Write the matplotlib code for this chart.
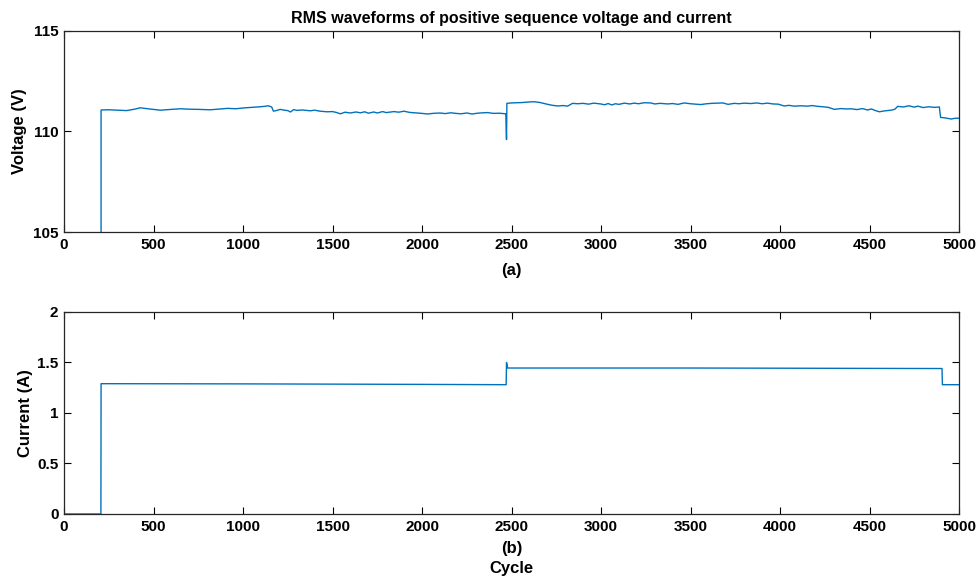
import matplotlib
matplotlib.use("Agg")
import matplotlib.pyplot as plt
from matplotlib import font_manager

# values
v_cycle = [0, 206, 207, 250, 300, 350, 400, 425, 450, 500, 537, 570, 600, 649, 700, 750,
           817, 870, 915, 960, 1000, 1050, 1096, 1120, 1141, 1160, 1170, 1190, 1208, 1230,
           1250, 1265, 1283, 1300, 1330, 1376, 1400, 1430, 1470, 1500, 1520, 1544, 1570,
           1600, 1630, 1656, 1680, 1700, 1730, 1750, 1780, 1800, 1843, 1870, 1899, 1930,
           1960, 2000, 2030, 2060, 2100, 2130, 2160, 2190, 2217, 2250, 2280, 2310, 2340,
           2366, 2400, 2430, 2468, 2472, 2474,
           2500, 2534, 2560, 2600, 2627, 2660, 2702, 2730, 2758, 2790, 2813, 2841, 2870,
           2900, 2930, 2960, 2998, 3020, 3040, 3060, 3080, 3100, 3130, 3160, 3185, 3210,
           3240, 3278, 3300, 3330, 3372, 3400, 3430, 3465, 3500, 3530, 3557, 3590, 3620,
           3651, 3680, 3710, 3744, 3770, 3800, 3837, 3870, 3900, 3930, 3960, 3990, 4023,
           4050, 4080, 4116, 4150, 4180, 4210, 4240, 4270, 4303, 4340, 4370, 4396, 4430,
           4460, 4489, 4510, 4530, 4555, 4580, 4600, 4620, 4640, 4658, 4690, 4720, 4750,
           4770, 4800, 4830, 4863, 4890, 4897, 4920, 4956, 4980, 5000]
voltage = [0, 0, 111.07, 111.08, 111.06, 111.04, 111.12, 111.18, 111.15, 111.10, 111.06,
           111.08, 111.10, 111.13, 111.11, 111.10, 111.08, 111.12, 111.15, 111.13, 111.17,
           111.20, 111.23, 111.25, 111.28, 111.22, 111.01, 111.05, 111.10, 111.06, 111.04,
           110.97, 111.09, 111.05, 111.07, 111.03, 111.06, 111.01, 110.98, 110.99, 110.95,
           110.88, 110.96, 110.92, 110.97, 110.93, 110.98, 110.91, 110.97, 110.92, 110.99,
           110.94, 110.99, 110.96, 111.01, 110.95, 110.93, 110.90, 110.87, 110.90, 110.92,
           110.89, 110.93, 110.90, 110.88, 110.92, 110.87, 110.91, 110.93, 110.94, 110.90,
           110.91, 110.88, 109.60, 111.40,
           111.42, 111.43, 111.44, 111.47, 111.48, 111.44, 111.35, 111.30, 111.27, 111.29,
           111.26, 111.40, 111.38, 111.40, 111.36, 111.41, 111.37, 111.33, 111.39, 111.32,
           111.38, 111.35, 111.41, 111.37, 111.41, 111.38, 111.43, 111.42, 111.37, 111.40,
           111.37, 111.39, 111.35, 111.42, 111.38, 111.36, 111.34, 111.38, 111.40, 111.41,
           111.42, 111.35, 111.40, 111.38, 111.41, 111.39, 111.42, 111.38, 111.41, 111.37,
           111.36, 111.27, 111.30, 111.26, 111.28, 111.26, 111.29, 111.25, 111.23, 111.20,
           111.10, 111.14, 111.12, 111.13, 111.09, 111.14, 111.07, 111.12, 111.05, 110.98,
           111.02, 111.04, 111.06, 111.10, 111.25, 111.22, 111.28, 111.21, 111.26, 111.19,
           111.23, 111.20, 111.22, 110.70, 110.68, 110.62, 110.66, 110.66]

i_cycle = [0, 206, 207, 1000, 2000, 2470, 2472, 2478, 3500, 4905, 4907, 5000]
current = [0, 0, 1.29, 1.288, 1.283, 1.28, 1.50, 1.445, 1.445, 1.44, 1.28, 1.28]

x_ticks = list(range(0, 5001, 500))
v_ticks = [105, 110, 115]
i_ticks = [0, 0.5, 1, 1.5, 2]
i_labels = ["0", "0.5", "1", "1.5", "2"]

names = {f.name for f in font_manager.fontManager.ttflist}
family = "Liberation Sans Narrow" if "Liberation Sans Narrow" in names else "Liberation Sans"
plt.rcParams["font.family"] = [family, "DejaVu Sans"]
plt.rcParams["font.weight"] = "bold"

line_color = "#0072BD"
fig = plt.figure(figsize=(9.79, 5.79), dpi=100)
ax1 = fig.add_axes([0.0654, 0.5993, 0.9142, 0.3472])
ax2 = fig.add_axes([0.0654, 0.1123, 0.9142, 0.3489])

ax1.plot(v_cycle, voltage, color=line_color, lw=1.0)
ax1.set_ylim(105, 115)
ax1.set_yticks(v_ticks)
ax1.set_ylabel("Voltage (V)", fontsize=12, fontweight="bold", labelpad=4)
ax1.set_title("RMS waveforms of positive sequence voltage and current",
              fontsize=11.5, fontweight="bold", pad=6)

ax2.plot(i_cycle, current, color=line_color, lw=1.0)
ax2.set_ylim(0, 2)
ax2.set_yticks(i_ticks)
ax2.set_yticklabels(i_labels)
ax2.set_ylabel("Current (A)", fontsize=12, fontweight="bold", labelpad=3)

for ax in (ax1, ax2):
    ax.set_xlim(0, 5000)
    ax.set_xticks(x_ticks)
    ax.tick_params(direction="in", top=True, right=True, length=5, width=0.8,
                   labelsize=11, pad=4)
    for lab in ax.get_xticklabels() + ax.get_yticklabels():
        lab.set_fontweight("bold")
    for sp in ax.spines.values():
        sp.set_linewidth(0.9)
        sp.set_color("#262626")

fig.text(0.5226, 1 - 270 / 579, "(a)", ha="center", va="center", fontsize=12, fontweight="bold")
fig.text(0.5226, 1 - 548 / 579, "(b)", ha="center", va="center", fontsize=12, fontweight="bold")
fig.text(0.5226, 1 - 568 / 579, "Cycle", ha="center", va="center", fontsize=12, fontweight="bold")

fig.savefig("out.png", dpi=100)
